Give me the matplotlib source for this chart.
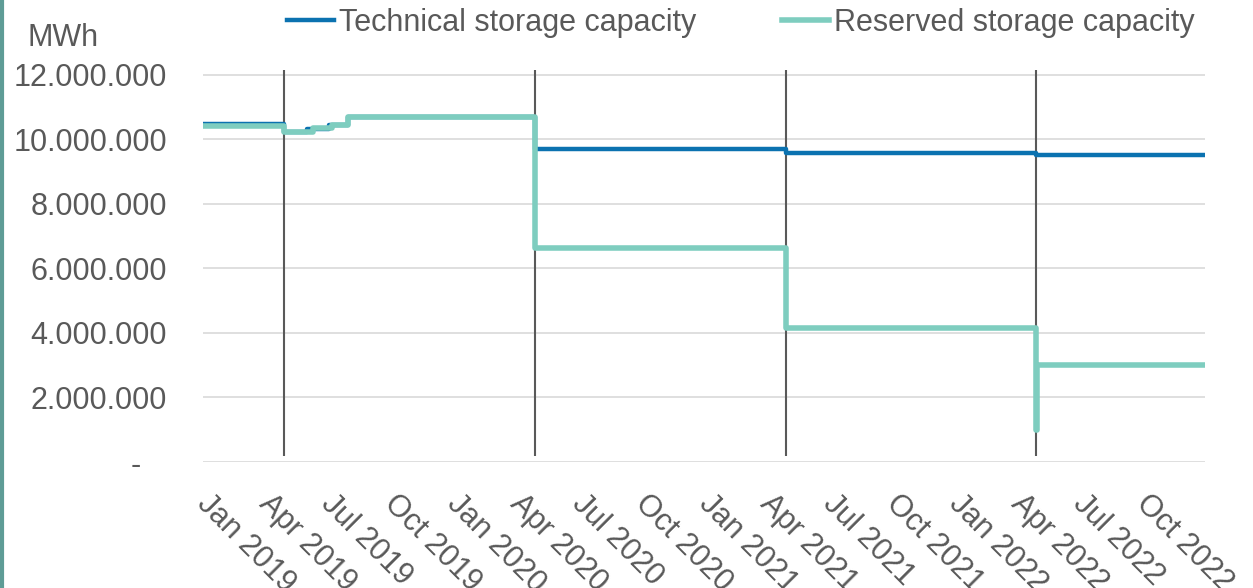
import matplotlib
matplotlib.use('Agg')
import matplotlib.pyplot as plt
import matplotlib.dates as mdates
import matplotlib.transforms as mtrans
from matplotlib.lines import Line2D
import numpy as np

plt.rcParams['font.family'] = ['Liberation Sans', 'DejaVu Sans']

# step data (value holds from date until next date), MWh
tech_dates = ['2018-12-01', '2019-04-01', '2019-05-04', '2019-06-05', '2019-07-04',
              '2020-04-01', '2021-04-01', '2022-04-01', '2022-12-03']
tech_vals = [10.47e6, 10.22e6, 10.33e6, 10.45e6, 10.70e6,
             9.71e6, 9.58e6, 9.53e6, 9.53e6]

res_dates = ['2018-12-01', '2019-04-01', '2019-05-13', '2019-06-10', '2019-07-04',
             '2020-04-01', '2021-04-01', '2022-04-01', '2022-04-02', '2022-12-03']
res_vals = [10.42e6, 10.22e6, 10.34e6, 10.45e6, 10.70e6,
            6.64e6, 4.14e6, 1.0e6, 3.0e6, 3.0e6]

# storage year boundaries
year_marks = ['2019-04-01', '2020-04-01', '2021-04-01', '2022-04-01']

y_ticks = [0, 2e6, 4e6, 6e6, 8e6, 10e6, 12e6]
y_labels = ['-   ', '2.000.000', '4.000.000', '6.000.000', '8.000.000', '10.000.000', '12.000.000']

blue = '#0B72B0'
teal = '#7ECDBF'
grey = '#595959'
fs = 22

fig = plt.figure(figsize=(12.53, 5.88), dpi=100)
ax = fig.add_axes([203/1253, 1-462/588, (1205-203)/1253, (462-70)/588])

td = np.array(tech_dates, dtype='datetime64[D]')
rd = np.array(res_dates, dtype='datetime64[D]')
ym = np.array(year_marks, dtype='datetime64[D]')

ax.vlines(ym, 0.19e6, 12.15e6, color=grey, lw=1.5, zorder=2, clip_on=False)
ax.plot(td, tech_vals, drawstyle='steps-post', color=blue, lw=3.2, zorder=3,
        label='Technical storage capacity')
ax.plot(rd, res_vals, drawstyle='steps-post', color=teal, lw=4, zorder=4,
        label='Reserved storage capacity')

ax.set_xlim(np.datetime64('2018-12-04'), np.datetime64('2022-12-03'))
ax.set_ylim(0, 12.15e6)

ax.set_yticks(y_ticks)
ax.set_yticklabels(y_labels)
ax.grid(axis='y', color='#D9D9D9', lw=1.2)
ax.set_axisbelow(True)
for s in ax.spines.values():
    s.set_visible(False)

ax.xaxis.set_major_locator(mdates.MonthLocator(bymonth=[1, 4, 7, 10]))
ax.xaxis.set_major_formatter(mdates.DateFormatter('%b %Y'))
ax.tick_params(axis='both', length=0, labelsize=fs, labelcolor=grey)
ax.tick_params(axis='y', pad=26)
ax.tick_params(axis='x', pad=19)
off = mtrans.ScaledTranslation(-10/100, 0, fig.dpi_scale_trans)
for lab in ax.get_xticklabels():
    lab.set_rotation(-45)
    lab.set_ha('left')
    lab.set_va('top')
    lab.set_rotation_mode('anchor')
    lab.set_transform(lab.get_transform() + off)

fig.text(27/1253, 1-38/588, 'MWh', fontsize=fs, color=grey, va='center', ha='left')

leg = fig.legend(loc='center left', bbox_to_anchor=(287/1253, 1-23/588), ncol=2,
                 frameon=False, fontsize=fs, handlelength=1.55, handletextpad=0.15,
                 columnspacing=2.8, borderpad=0, borderaxespad=0)
for t in leg.get_texts():
    t.set_color(grey)

# slide border on the left edge
fig.add_artist(Line2D([0.0012, 0.0012], [0, 1], color='#5E9C96', lw=3, transform=fig.transFigure))

fig.savefig('out.png', dpi=100)
